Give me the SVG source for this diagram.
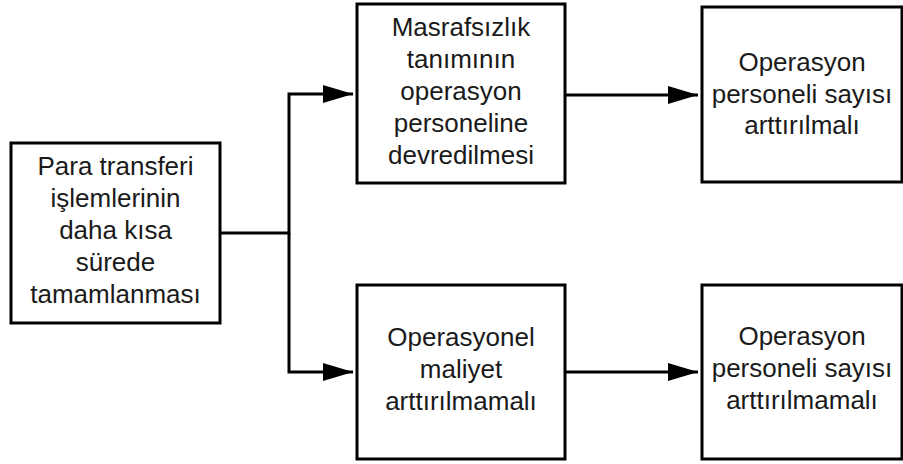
<svg xmlns="http://www.w3.org/2000/svg" width="903" height="464" viewBox="0 0 903 464">
<defs>
<style>
.box{fill:#fff;stroke:#000;stroke-width:3}
.lbl{font-family:"Liberation Sans",Arial,sans-serif;font-size:26px;fill:#1a1a1a;text-anchor:middle}
.ln{fill:none;stroke:#000;stroke-width:3}
</style>
<marker id="arr" markerUnits="userSpaceOnUse" markerWidth="32" markerHeight="20" refX="30" refY="9" orient="auto">
<path d="M0,0 L30,9 L0,18 Z" fill="#000"/>
</marker>
</defs>
<rect width="903" height="464" fill="#fff"/>
<g id="connectors">
<path class="ln" d="M220,233 H289 V94 H353" marker-end="url(#arr)"/>
<path class="ln" d="M289,233 V372 H353" marker-end="url(#arr)"/>
<path class="ln" d="M565,95 H698" marker-end="url(#arr)"/>
<path class="ln" d="M565,372 H698" marker-end="url(#arr)"/>
</g>
<g id="n1">
<rect class="box" x="11" y="143" width="209" height="180"/>
<text class="lbl" x="115.5" y="175">Para transferi</text>
<text class="lbl" x="115.5" y="207">işlemlerinin</text>
<text class="lbl" x="115.5" y="239">daha kısa</text>
<text class="lbl" x="115.5" y="271">sürede</text>
<text class="lbl" x="115.5" y="303">tamamlanması</text>
</g>
<g id="n2">
<rect class="box" x="357" y="4" width="208" height="179"/>
<text class="lbl" x="461" y="35.5">Masrafsızlık</text>
<text class="lbl" x="461" y="67.5">tanımının</text>
<text class="lbl" x="461" y="99.5">operasyon</text>
<text class="lbl" x="461" y="131.5">personeline</text>
<text class="lbl" x="461" y="163.5">devredilmesi</text>
</g>
<g id="n3">
<rect class="box" x="702" y="7" width="200" height="175"/>
<text class="lbl" x="802" y="71">Operasyon</text>
<text class="lbl" x="802" y="102.5">personeli sayısı</text>
<text class="lbl" x="802" y="134">arttırılmalı</text>
</g>
<g id="n4">
<rect class="box" x="357" y="285" width="208" height="174"/>
<text class="lbl" x="461" y="346">Operasyonel</text>
<text class="lbl" x="461" y="378">maliyet</text>
<text class="lbl" x="461" y="410">arttırılmamalı</text>
</g>
<g id="n5">
<rect class="box" x="702" y="285" width="200" height="174"/>
<text class="lbl" x="802" y="345">Operasyon</text>
<text class="lbl" x="802" y="377">personeli sayısı</text>
<text class="lbl" x="802" y="409">arttırılmamalı</text>
</g>
</svg>
